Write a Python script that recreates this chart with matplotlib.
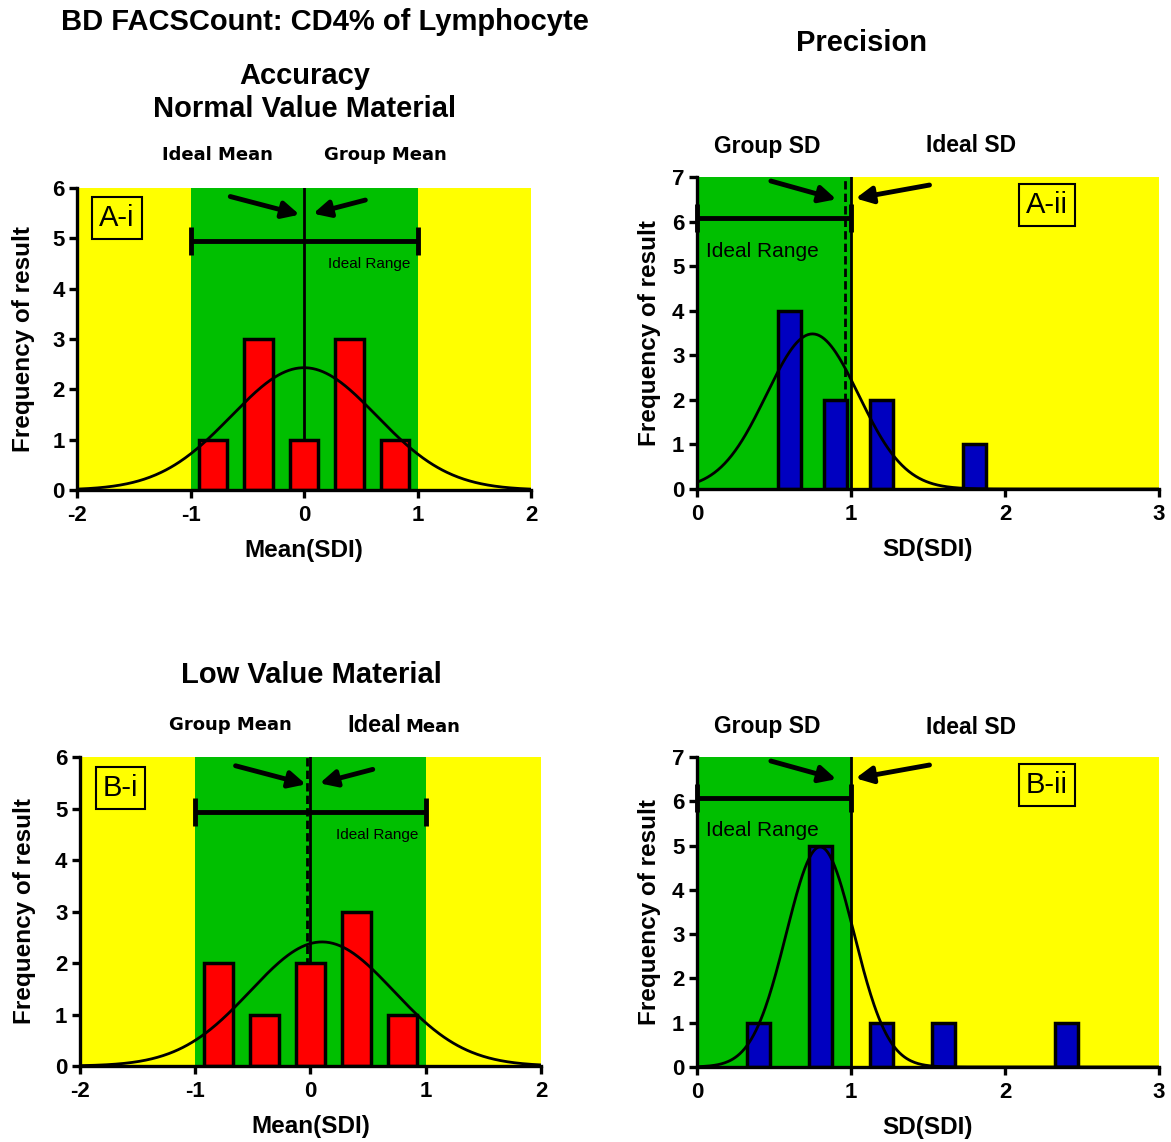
import numpy as np
import matplotlib
matplotlib.use("Agg")
import matplotlib.pyplot as plt

plt.rcParams["font.family"] = ["Liberation Sans", "DejaVu Sans"]
plt.rcParams["font.weight"] = "bold"
plt.rcParams["axes.labelweight"] = "bold"
plt.rcParams["axes.unicode_minus"] = False

GREEN = "#00BF00"
YELLOW = "#FFFF00"
RED = "#FF0000"
BLUE = "#0000C0"

# A-i: accuracy, normal value material (histogram of Mean(SDI))
ai_centers = [-0.8, -0.4, 0.0, 0.4, 0.8]
ai_counts = [1, 3, 1, 3, 1]
ai_fit = (0.0, 0.64, 2.43)  # mean, sd, peak height of fitted normal curve
ai_group_mean = 0.0
ai_ideal_mean = 0.0

# A-ii: precision, normal value material (histogram of SD(SDI))
aii_centers = [0.6, 0.9, 1.2, 1.8]
aii_counts = [4, 2, 2, 1]
aii_fit = (0.75, 0.30, 3.48)
aii_group_sd = 0.96
aii_ideal_sd = 1.0

# B-i: accuracy, low value material
bi_centers = [-0.8, -0.4, 0.0, 0.4, 0.8]
bi_counts = [2, 1, 2, 3, 1]
bi_fit = (0.1, 0.62, 2.41)
bi_group_mean = -0.03
bi_ideal_mean = 0.0

# B-ii: precision, low value material
bii_centers = [0.4, 0.8, 1.2, 1.6, 2.4]
bii_counts = [1, 5, 1, 1, 1]
bii_fit = (0.8, 0.22, 4.97)
bii_group_sd = None
bii_ideal_sd = 1.0


def fig_xy(px, py):
    return px / 1171, 1 - py / 1142


def style_axes(ax, xlim, ymax):
    ax.set_xlim(*xlim)
    ax.set_ylim(0, ymax)
    ax.set_xticks(range(int(xlim[0]), int(xlim[1]) + 1))
    ax.set_yticks(range(0, ymax + 1))
    for side in ("top", "right"):
        ax.spines[side].set_visible(False)
    for side in ("left", "bottom"):
        ax.spines[side].set_linewidth(2.4)
    ax.tick_params(direction="out", length=6, width=2.4, labelsize=16, pad=3)
    ax.tick_params(axis="x", pad=5)
    for lbl in ax.get_xticklabels() + ax.get_yticklabels():
        lbl.set_fontweight("bold")
    ax.set_ylabel("Frequency of result", fontsize=17.5)


def draw_hist(ax, centers, counts, width, color, fit, x0, x1):
    ax.bar(centers, counts, width=width, color=color, edgecolor="black", linewidth=2.5, zorder=2)
    mean, sd, peak = fit
    xs = np.linspace(x0, x1, 400)
    ax.plot(xs, peak * np.exp(-((xs - mean) ** 2) / (2 * sd ** 2)), color="black", lw=2, zorder=3)


def arrow(ax, tail, head):
    ax.annotate("", xy=head, xytext=tail,
                arrowprops=dict(arrowstyle="-|>,head_length=1.0,head_width=0.5", lw=3.5,
                                color="black", shrinkA=0, shrinkB=0), zorder=4)


def tag(ax, x, y, label):
    ax.text(x, y, label, fontsize=21, fontweight="normal", ha="center", va="center", zorder=5,
            bbox=dict(boxstyle="square,pad=0.24", facecolor=YELLOW, edgecolor="black", linewidth=1.5))


def mean_panel(ax, centers, counts, fit, group, ideal, label, range_fs):
    ax.axvspan(-2, -1, color=YELLOW, zorder=0, lw=0)
    ax.axvspan(-1, 1, color=GREEN, zorder=0, lw=0)
    ax.axvspan(1, 2, color=YELLOW, zorder=0, lw=0)
    if group != ideal:
        ax.axvline(group, color="black", lw=2, ls=(0, (3, 1.5)), zorder=1.5)
    ax.axvline(ideal, color="black", lw=2, zorder=1.5)
    draw_hist(ax, centers, counts, 0.25, RED, fit, -2, 2)
    ax.errorbar(0, 4.94, xerr=1, color="black", elinewidth=3.5, capsize=10, capthick=3.5, zorder=4)
    ax.text(0.94, 4.48, "Ideal Range", fontsize=range_fs, fontweight="normal", ha="right", va="center")
    arrow(ax, (-0.65, 5.83), (-0.04, 5.47))
    arrow(ax, (0.54, 5.76), (0.08, 5.49))
    tag(ax, -1.65, 5.4, label)
    style_axes(ax, (-2, 2), 6)
    ax.set_xlabel("Mean(SDI)", fontsize=17.5, labelpad=9)


def sd_panel(ax, centers, counts, fit, group, ideal, label):
    ax.axvspan(0, 1, color=GREEN, zorder=0, lw=0)
    ax.axvspan(1, 3, color=YELLOW, zorder=0, lw=0)
    if group is not None:
        ax.axvline(group, color="black", lw=2, ls=(0, (3, 1.5)), zorder=1.5)
    ax.axvline(ideal, color="black", lw=2, zorder=1.5)
    draw_hist(ax, centers, counts, 0.15, BLUE, fit, 0, 3)
    ax.errorbar(0.5, 6.08, xerr=0.5, color="black", elinewidth=3.5, capsize=10, capthick=3.5,
                zorder=4, clip_on=False)
    ax.text(0.056, 5.33, "Ideal Range", fontsize=15, fontweight="normal", ha="left", va="center")
    arrow(ax, (0.48, 6.91), (0.905, 6.5))
    arrow(ax, (1.51, 6.82), (1.03, 6.52))
    tag(ax, 2.27, 6.37, label)
    style_axes(ax, (0, 3), 7)
    ax.set_xlabel("SD(SDI)", fontsize=17.5, labelpad=9)


fig = plt.figure(figsize=(11.71, 11.42), dpi=100)
ax_ai = fig.add_axes([0.0658, 0.5709, 0.3877, 0.2645])
ax_aii = fig.add_axes([0.5952, 0.5718, 0.3945, 0.2732])
ax_bi = fig.add_axes([0.0683, 0.0665, 0.3937, 0.2706])
ax_bii = fig.add_axes([0.5952, 0.0657, 0.3945, 0.2714])

mean_panel(ax_ai, ai_centers, ai_counts, ai_fit, ai_group_mean, ai_ideal_mean, "A-i", 11)
sd_panel(ax_aii, aii_centers, aii_counts, aii_fit, aii_group_sd, aii_ideal_sd, "A-ii")
mean_panel(ax_bi, bi_centers, bi_counts, bi_fit, bi_group_mean, bi_ideal_mean, "B-i", 11)
sd_panel(ax_bii, bii_centers, bii_counts, bii_fit, bii_group_sd, bii_ideal_sd, "B-ii")

ax_ai.yaxis.set_label_coords(-0.092, 0.5)
ax_bi.yaxis.set_label_coords(-0.095, 0.5)
for ax in (ax_aii, ax_bii):
    ax.yaxis.set_label_coords(-0.078, 0.5)

# titles
fig.text(*fig_xy(325, 22), "BD FACSCount: CD4% of Lymphocyte", fontsize=21, ha="center", va="center")
fig.text(*fig_xy(305, 76), "Accuracy", fontsize=21, ha="center", va="center")
fig.text(*fig_xy(305, 109), "Normal Value Material", fontsize=21, ha="center", va="center")
fig.text(*fig_xy(862, 43), "Precision", fontsize=21, ha="center", va="center")
fig.text(*fig_xy(311, 675), "Low Value Material", fontsize=21, ha="center", va="center")

spaced = dict(family="DejaVu Sans", fontsize=13, ha="center", va="center")
fig.text(*fig_xy(217, 155), "Ideal Mean", **spaced)
fig.text(*fig_xy(385, 155), "Group Mean", **spaced)
fig.text(*fig_xy(230, 725), "Group Mean", **spaced)
fig.text(*fig_xy(401, 732), "Ideal", fontsize=17, ha="right", va="baseline")
fig.text(*fig_xy(405, 732), "Mean", family="DejaVu Sans", fontsize=13, ha="left", va="baseline")

for py in (146, 727):
    fig.text(*fig_xy(767, py), "Group SD", fontsize=16.5, ha="center", va="center")
    fig.text(*fig_xy(971, py), "Ideal SD", fontsize=16.5, ha="center", va="center")

fig.savefig("out.png", dpi=100)
